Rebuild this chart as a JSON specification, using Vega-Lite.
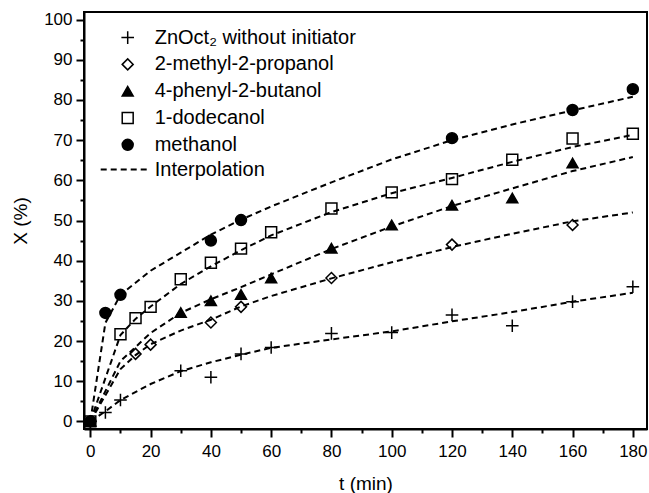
{
  "$schema": "https://vega.github.io/schema/vega-lite/v6.json",
  "width": 563,
  "height": 417,
  "autosize": {"type": "none"},
  "padding": {"left": 84, "top": 12, "right": 2, "bottom": 64},
  "background": "white",
  "config": {
    "font": "Liberation Sans",
    "view": {"stroke": "black", "strokeWidth": 2},
    "axis": {
      "grid": false,
      "domainColor": "black",
      "domainWidth": 2,
      "tickColor": "black",
      "tickWidth": 2,
      "labelColor": "black",
      "labelFont": "Liberation Sans",
      "labelFontSize": 17,
      "titleColor": "black",
      "titleFont": "Liberation Sans",
      "titleFontSize": 19,
      "titleFontWeight": "normal"
    },
    "legend": {
      "labelFont": "Liberation Sans",
      "labelFontSize": 20,
      "labelColor": "black",
      "labelLimit": 400,
      "padding": 0
    }
  },
  "datasets": {
    "pts": [
      {"series": "ZnOct₂ without initiator", "t": 0, "X": 0},
      {"series": "ZnOct₂ without initiator", "t": 5, "X": 2.2},
      {"series": "ZnOct₂ without initiator", "t": 10, "X": 5.3},
      {"series": "ZnOct₂ without initiator", "t": 30, "X": 12.6},
      {"series": "ZnOct₂ without initiator", "t": 40, "X": 11.0},
      {"series": "ZnOct₂ without initiator", "t": 50, "X": 16.8},
      {"series": "ZnOct₂ without initiator", "t": 60, "X": 18.4},
      {"series": "ZnOct₂ without initiator", "t": 80, "X": 21.9},
      {"series": "ZnOct₂ without initiator", "t": 100, "X": 22.1},
      {"series": "ZnOct₂ without initiator", "t": 120, "X": 26.5},
      {"series": "ZnOct₂ without initiator", "t": 140, "X": 23.8},
      {"series": "ZnOct₂ without initiator", "t": 160, "X": 29.8},
      {"series": "ZnOct₂ without initiator", "t": 180, "X": 33.5},
      {"series": "2-methyl-2-propanol", "t": 0, "X": 0},
      {"series": "2-methyl-2-propanol", "t": 15, "X": 16.8},
      {"series": "2-methyl-2-propanol", "t": 20, "X": 19.1},
      {"series": "2-methyl-2-propanol", "t": 40, "X": 24.6},
      {"series": "2-methyl-2-propanol", "t": 50, "X": 28.5},
      {"series": "2-methyl-2-propanol", "t": 80, "X": 35.7},
      {"series": "2-methyl-2-propanol", "t": 120, "X": 44.0},
      {"series": "2-methyl-2-propanol", "t": 160, "X": 48.9},
      {"series": "4-phenyl-2-butanol", "t": 0, "X": 0},
      {"series": "4-phenyl-2-butanol", "t": 30, "X": 27.1},
      {"series": "4-phenyl-2-butanol", "t": 40, "X": 30.0},
      {"series": "4-phenyl-2-butanol", "t": 50, "X": 31.6},
      {"series": "4-phenyl-2-butanol", "t": 60, "X": 35.7},
      {"series": "4-phenyl-2-butanol", "t": 80, "X": 43.1},
      {"series": "4-phenyl-2-butanol", "t": 100, "X": 48.9},
      {"series": "4-phenyl-2-butanol", "t": 120, "X": 53.8},
      {"series": "4-phenyl-2-butanol", "t": 140, "X": 55.6},
      {"series": "4-phenyl-2-butanol", "t": 160, "X": 64.3},
      {"series": "1-dodecanol", "t": 0, "X": 0},
      {"series": "1-dodecanol", "t": 10, "X": 21.7},
      {"series": "1-dodecanol", "t": 15, "X": 25.7},
      {"series": "1-dodecanol", "t": 20, "X": 28.5},
      {"series": "1-dodecanol", "t": 30, "X": 35.4},
      {"series": "1-dodecanol", "t": 40, "X": 39.5},
      {"series": "1-dodecanol", "t": 50, "X": 43.0},
      {"series": "1-dodecanol", "t": 60, "X": 47.1},
      {"series": "1-dodecanol", "t": 80, "X": 53.0},
      {"series": "1-dodecanol", "t": 100, "X": 57.0},
      {"series": "1-dodecanol", "t": 120, "X": 60.3},
      {"series": "1-dodecanol", "t": 140, "X": 65.1},
      {"series": "1-dodecanol", "t": 160, "X": 70.4},
      {"series": "1-dodecanol", "t": 180, "X": 71.6},
      {"series": "methanol", "t": 0, "X": 0},
      {"series": "methanol", "t": 5, "X": 27.0},
      {"series": "methanol", "t": 10, "X": 31.5},
      {"series": "methanol", "t": 40, "X": 45.0},
      {"series": "methanol", "t": 50, "X": 50.1},
      {"series": "methanol", "t": 120, "X": 70.5},
      {"series": "methanol", "t": 160, "X": 77.5},
      {"series": "methanol", "t": 180, "X": 82.7}
    ],
    "fit": [
      {"series": "ZnOct₂ without initiator", "t": 0, "X": 0},
      {"series": "ZnOct₂ without initiator", "t": 5, "X": 2.5},
      {"series": "ZnOct₂ without initiator", "t": 10, "X": 5.3},
      {"series": "ZnOct₂ without initiator", "t": 20, "X": 9.3},
      {"series": "ZnOct₂ without initiator", "t": 30, "X": 12.5},
      {"series": "ZnOct₂ without initiator", "t": 40, "X": 14.7},
      {"series": "ZnOct₂ without initiator", "t": 50, "X": 16.6},
      {"series": "ZnOct₂ without initiator", "t": 60, "X": 18.3},
      {"series": "ZnOct₂ without initiator", "t": 80, "X": 20.4},
      {"series": "ZnOct₂ without initiator", "t": 100, "X": 22.4},
      {"series": "ZnOct₂ without initiator", "t": 120, "X": 24.9},
      {"series": "ZnOct₂ without initiator", "t": 140, "X": 27.2},
      {"series": "ZnOct₂ without initiator", "t": 160, "X": 29.8},
      {"series": "ZnOct₂ without initiator", "t": 180, "X": 32.0},
      {"series": "2-methyl-2-propanol", "t": 0, "X": 0},
      {"series": "2-methyl-2-propanol", "t": 10, "X": 13.0},
      {"series": "2-methyl-2-propanol", "t": 15, "X": 16.5},
      {"series": "2-methyl-2-propanol", "t": 20, "X": 19.2},
      {"series": "2-methyl-2-propanol", "t": 30, "X": 22.6},
      {"series": "2-methyl-2-propanol", "t": 40, "X": 25.3},
      {"series": "2-methyl-2-propanol", "t": 50, "X": 28.6},
      {"series": "2-methyl-2-propanol", "t": 60, "X": 31.2},
      {"series": "2-methyl-2-propanol", "t": 80, "X": 35.6},
      {"series": "2-methyl-2-propanol", "t": 100, "X": 39.6},
      {"series": "2-methyl-2-propanol", "t": 120, "X": 43.4},
      {"series": "2-methyl-2-propanol", "t": 140, "X": 46.7},
      {"series": "2-methyl-2-propanol", "t": 160, "X": 49.8},
      {"series": "2-methyl-2-propanol", "t": 180, "X": 52.0},
      {"series": "4-phenyl-2-butanol", "t": 0, "X": 0},
      {"series": "4-phenyl-2-butanol", "t": 10, "X": 15.0},
      {"series": "4-phenyl-2-butanol", "t": 20, "X": 22.0},
      {"series": "4-phenyl-2-butanol", "t": 30, "X": 27.0},
      {"series": "4-phenyl-2-butanol", "t": 40, "X": 30.4},
      {"series": "4-phenyl-2-butanol", "t": 50, "X": 33.4},
      {"series": "4-phenyl-2-butanol", "t": 60, "X": 36.6},
      {"series": "4-phenyl-2-butanol", "t": 80, "X": 42.9},
      {"series": "4-phenyl-2-butanol", "t": 100, "X": 48.5},
      {"series": "4-phenyl-2-butanol", "t": 120, "X": 53.6},
      {"series": "4-phenyl-2-butanol", "t": 140, "X": 58.0},
      {"series": "4-phenyl-2-butanol", "t": 160, "X": 62.3},
      {"series": "4-phenyl-2-butanol", "t": 180, "X": 65.8},
      {"series": "1-dodecanol", "t": 0, "X": 0},
      {"series": "1-dodecanol", "t": 10, "X": 21.5},
      {"series": "1-dodecanol", "t": 15, "X": 25.5},
      {"series": "1-dodecanol", "t": 20, "X": 28.6},
      {"series": "1-dodecanol", "t": 30, "X": 34.2},
      {"series": "1-dodecanol", "t": 40, "X": 38.6},
      {"series": "1-dodecanol", "t": 50, "X": 42.6},
      {"series": "1-dodecanol", "t": 60, "X": 46.3},
      {"series": "1-dodecanol", "t": 80, "X": 52.1},
      {"series": "1-dodecanol", "t": 100, "X": 56.8},
      {"series": "1-dodecanol", "t": 120, "X": 60.6},
      {"series": "1-dodecanol", "t": 140, "X": 64.6},
      {"series": "1-dodecanol", "t": 160, "X": 68.3},
      {"series": "1-dodecanol", "t": 180, "X": 71.3},
      {"series": "methanol", "t": 0, "X": 0},
      {"series": "methanol", "t": 5, "X": 24.5},
      {"series": "methanol", "t": 10, "X": 31.5},
      {"series": "methanol", "t": 20, "X": 37.5},
      {"series": "methanol", "t": 30, "X": 42.0},
      {"series": "methanol", "t": 40, "X": 46.5},
      {"series": "methanol", "t": 50, "X": 50.2},
      {"series": "methanol", "t": 60, "X": 53.5},
      {"series": "methanol", "t": 80, "X": 59.5},
      {"series": "methanol", "t": 100, "X": 65.2},
      {"series": "methanol", "t": 120, "X": 70.0},
      {"series": "methanol", "t": 140, "X": 73.9},
      {"series": "methanol", "t": 160, "X": 77.4},
      {"series": "methanol", "t": 180, "X": 80.8}
    ]
  },
  "layer": [
    {
      "data": {"name": "fit"},
      "mark": {"type": "line", "stroke": "black", "strokeWidth": 2},
      "encoding": {
        "x": {
          "field": "t", "type": "quantitative",
          "scale": {"domain": [-2.1, 184.7], "nice": false, "zero": false},
          "axis": {"orient": "bottom", "values": [0, 20, 40, 60, 80, 100, 120, 140, 160, 180], "tickSize": 8, "labelPadding": 6, "labelFlush": false, "labelOverlap": false, "title": "t (min)", "titlePadding": 15}
        },
        "y": {
          "field": "X", "type": "quantitative",
          "scale": {"domain": [-1.9, 101.9], "nice": false, "zero": false},
          "axis": {"orient": "left", "values": [0, 10, 20, 30, 40, 50, 60, 70, 80, 90, 100], "tickSize": 8, "labelPadding": 4, "labelFlush": false, "labelOverlap": false, "title": "X (%)", "titlePadding": 13}
        },
        "detail": {"field": "series"},
        "strokeDash": {
          "datum": "Interpolation", "type": "nominal",
          "scale": {"range": [[6, 4]]},
          "legend": {"orient": "none", "legendX": 15.7, "legendY": 133.6, "title": null, "symbolType": "stroke", "symbolSize": 2116, "symbolStrokeWidth": 2, "symbolStrokeColor": "black", "labelOffset": 7}
        }
      }
    },
    {
      "data": {"name": "pts"},
      "mark": {"type": "point", "strokeWidth": 1.5, "size": 120, "opacity": 1},
      "encoding": {
        "x": {
          "field": "t", "type": "quantitative",
          "axis": {"orient": "bottom", "values": [10, 30, 50, 70, 90, 110, 130, 150, 170], "tickSize": 4, "labels": false, "domain": false, "title": null}
        },
        "y": {
          "field": "X", "type": "quantitative",
          "axis": {"orient": "left", "values": [5, 15, 25, 35, 45, 55, 65, 75, 85, 95], "tickSize": 4, "labels": false, "domain": false, "title": null}
        },
        "shape": {
          "field": "series", "type": "nominal",
          "scale": {
            "domain": ["ZnOct₂ without initiator", "2-methyl-2-propanol", "4-phenyl-2-butanol", "1-dodecanol", "methanol"],
            "range": ["M-1.15,0H1.15M0,-1.15V1.15", "diamond", "triangle-up", "square", "circle"]
          },
          "legend": {"orient": "none", "legendX": 33.7, "legendY": 15.6, "title": null, "symbolSize": 120, "symbolStrokeWidth": 1.5, "labelOffset": 17, "rowPadding": 6.8}
        },
        "fill": {
          "field": "series", "type": "nominal",
          "scale": {
            "domain": ["ZnOct₂ without initiator", "2-methyl-2-propanol", "4-phenyl-2-butanol", "1-dodecanol", "methanol"],
            "range": ["transparent", "transparent", "black", "transparent", "black"]
          },
          "legend": {"orient": "none", "legendX": 33.7, "legendY": 15.6, "title": null, "symbolSize": 120, "symbolStrokeWidth": 1.5, "labelOffset": 17, "rowPadding": 6.8}
        },
        "stroke": {
          "field": "series", "type": "nominal",
          "scale": {
            "domain": ["ZnOct₂ without initiator", "2-methyl-2-propanol", "4-phenyl-2-butanol", "1-dodecanol", "methanol"],
            "range": ["black", "black", "black", "black", "black"]
          },
          "legend": {"orient": "none", "legendX": 33.7, "legendY": 15.6, "title": null, "symbolSize": 120, "symbolStrokeWidth": 1.5, "labelOffset": 17, "rowPadding": 6.8}
        }
      }
    }
  ],
  "resolve": {"axis": {"x": "independent", "y": "independent"}}
}
